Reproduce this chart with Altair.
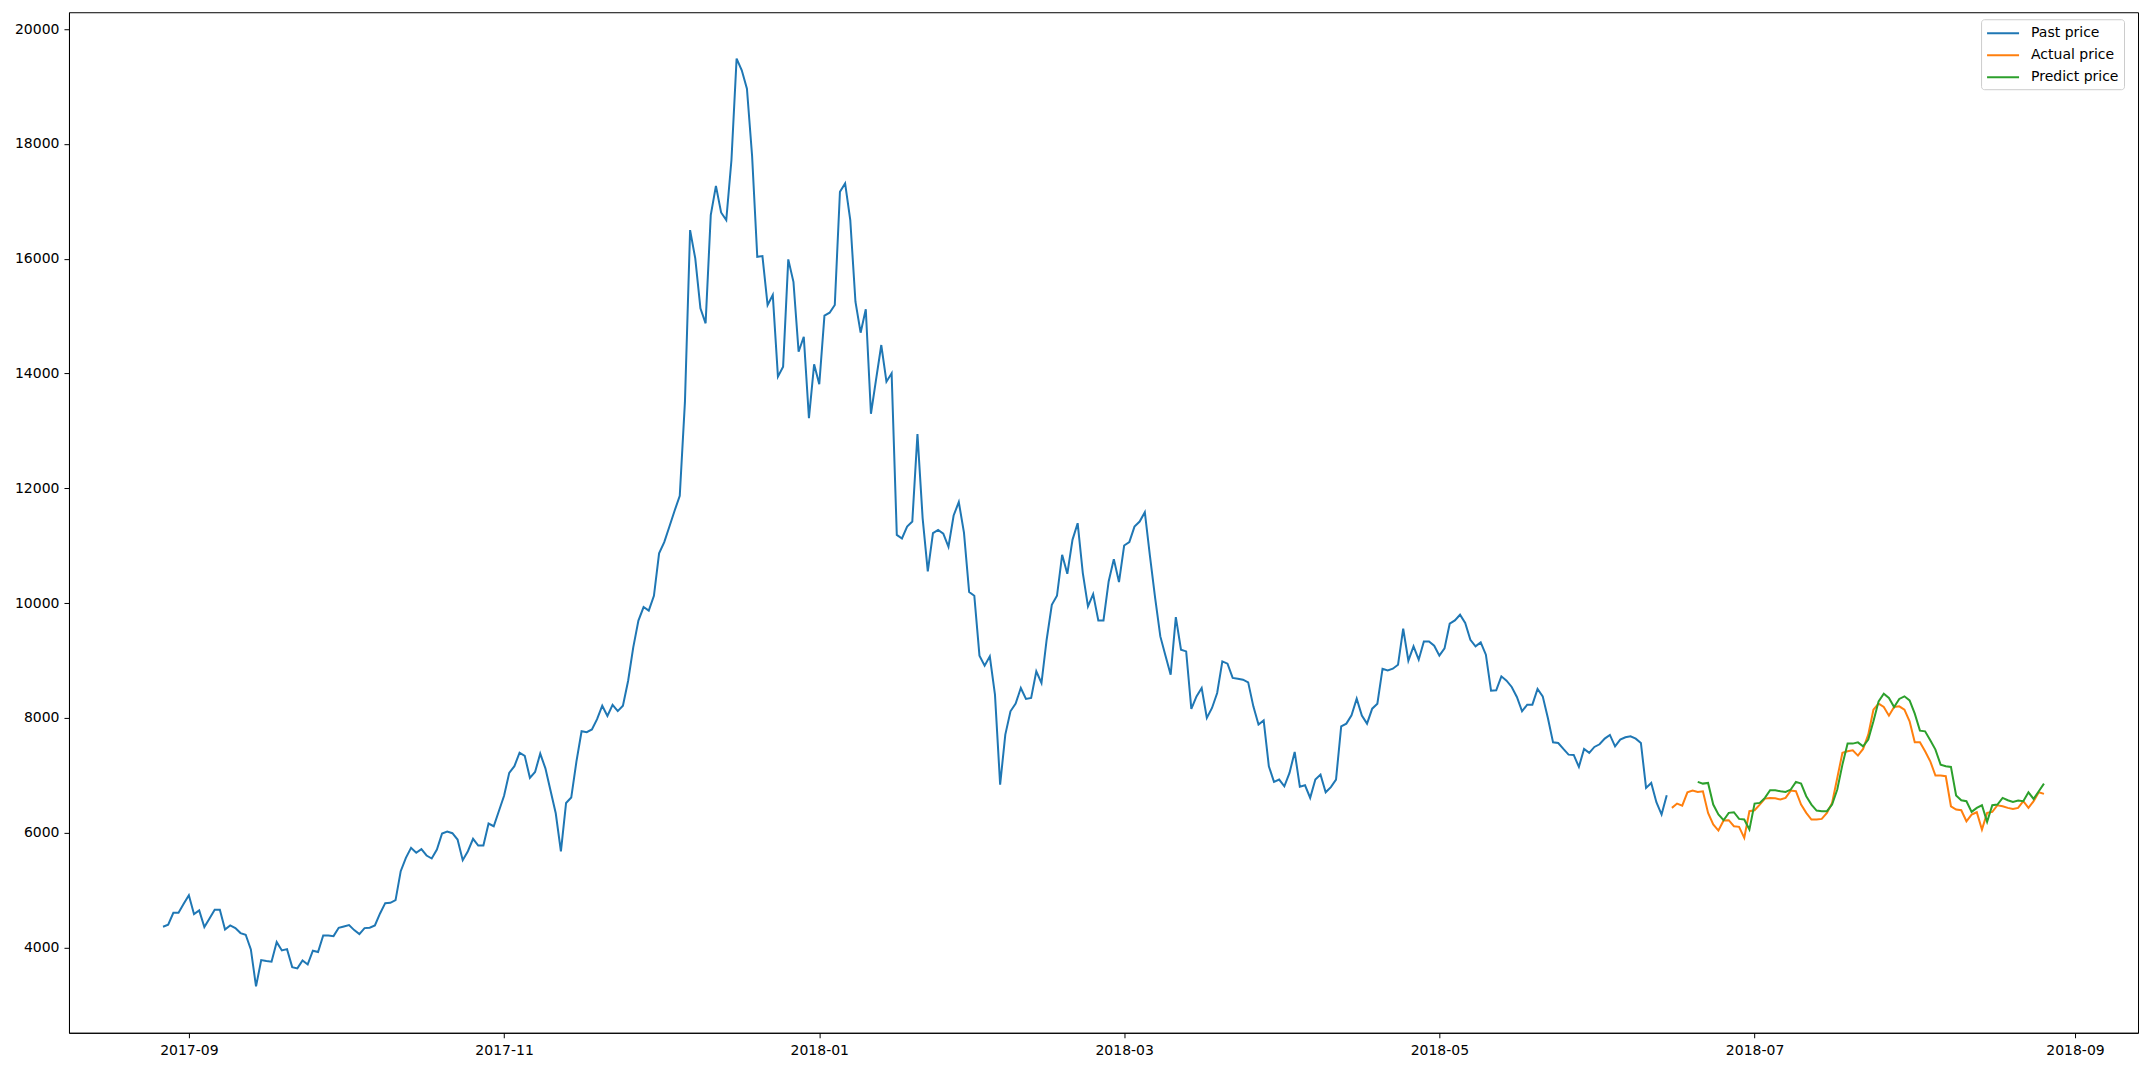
import altair as alt
import pandas as pd

# ---- data (daily prices) ----
past_start = "2017-08-27"
past_2017_08 = [4359, 4393, 4602, 4602, 4759]
past_2017_09 = [4909, 4578, 4642, 4352, 4503, 4654, 4654, 4311, 4381, 4335,
                4248, 4219, 3963, 3319, 3777, 3760, 3749, 4091, 3946, 3969,
                3655, 3633, 3772, 3702, 3941, 3917, 4207, 4207, 4195, 4341]
past_2017_10 = [4364, 4387, 4300, 4230, 4335, 4341, 4381, 4590, 4770, 4776,
                4822, 5327, 5560, 5734, 5647, 5710, 5600, 5548, 5704, 5983,
                6018, 5989, 5879, 5518, 5675, 5891, 5774, 5774, 6157, 6110, 6376]
past_2017_11 = [6640, 7040, 7157, 7391, 7336, 6954, 7055, 7376, 7118, 6728,
                6336, 5673, 6516, 6610, 7235, 7766, 7750, 7797, 7976, 8211,
                8032, 8227, 8117, 8211, 8641, 9226, 9695, 9930, 9867, 10125]
past_2017_12 = [10866, 11061, 11334, 11608, 11867, 13500, 16498, 16005, 15135, 14874,
                16759, 17270, 16806, 16672, 17716, 19487, 19283, 18964, 17790, 16034,
                16046, 15193, 15367, 13945, 14119, 15988, 15598, 14379, 14640, 13220, 14160]
past_2018_01 = [13812, 15007, 15059, 15193, 17166, 17312, 16672, 15250, 14711, 15118,
                13298, 13900, 14496, 13857, 14003, 11187, 11125, 11332, 11420, 12943,
                11480, 10550, 11217, 11275, 11210, 10980, 11525, 11760, 11228, 10191, 10126]
past_2018_02 = [9082, 8908, 9070, 8403, 6836, 7707, 8113, 8246, 8519, 8328,
                8345, 8808, 8606, 9360, 9970, 10126, 10840, 10509, 11101, 11391,
                10521, 9940, 10156, 9697, 9697, 10376, 10765, 10365]
past_2018_03 = [11002, 11061, 11332, 11420, 11583, 10811, 10086, 9418, 9082, 8751,
                9755, 9186, 9157, 8154, 8373, 8519, 7997, 8171, 8432, 8983,
                8943, 8694, 8682, 8664, 8617, 8199, 7881, 7955, 7155, 6883, 6923]
past_2018_04 = [6806, 7040, 7405, 6800, 6824, 6604, 6923, 7010, 6702, 6792,
                6923, 7851, 7898, 8043, 8333, 8037, 7898, 8159, 8246, 8855,
                8826, 8855, 8925, 9552, 8995, 9244, 9012, 9331, 9331, 9256]
past_2018_05 = [9082, 9209, 9639, 9697, 9796, 9651, 9360, 9244, 9313, 9099,
                8472, 8478, 8722, 8647, 8537, 8363, 8113, 8229, 8229, 8502,
                8373, 7997, 7572, 7561, 7457, 7358, 7352, 7144, 7457, 7388, 7492]
past_2018_06 = [7538, 7637, 7701, 7503, 7620, 7660, 7677, 7637, 7561, 6778,
                6865, 6528, 6314, 6650]

actual_start = "2018-06-15"
actual_2018_06 = [6430, 6505, 6470, 6702, 6731, 6708, 6720, 6343, 6140, 6035,
                  6209, 6215, 6110, 6099, 5908, 6372]
actual_2018_07 = [6389, 6488, 6592, 6604, 6598, 6575, 6604, 6731, 6720, 6488,
                  6343, 6227, 6227, 6238, 6343, 6517, 6952, 7388, 7416, 7433,
                  7341, 7457, 7706, 8141, 8246, 8188, 8037, 8188, 8200, 8141, 7938]
actual_2018_08 = [7572, 7572, 7416, 7242, 6993, 6993, 6981, 6458, 6401, 6389,
                  6197, 6314, 6354, 6052, 6343, 6360, 6476, 6458, 6430, 6412,
                  6430, 6546, 6430, 6546, 6702, 6674]

predict_start = "2018-06-20"
predict_2018_06 = [6883, 6853, 6865, 6488, 6314, 6215, 6343, 6354, 6238, 6227, 6052]
predict_2018_07 = [6505, 6517, 6604, 6737, 6737, 6720, 6708, 6749, 6883, 6853,
                   6633, 6488, 6383, 6372, 6372, 6488, 6749, 7184, 7550, 7550,
                   7572, 7503, 7620, 7938, 8287, 8420, 8345, 8188, 8328, 8374, 8304]
predict_2018_08 = [8072, 7776, 7764, 7607, 7445, 7184, 7155, 7144, 6645, 6563,
                   6546, 6360, 6430, 6476, 6186, 6476, 6488, 6604, 6563, 6534,
                   6557, 6546, 6702, 6586, 6720, 6853]

series_names = ["Past price", "Actual price", "Predict price"]
series_colors = ["#1f77b4", "#ff7f0e", "#2ca02c"]
y_ticks = [4000, 6000, 8000, 10000, 12000, 14000, 16000, 18000, 20000]
x_tick_months = [(2017, 9), (2017, 11), (2018, 1), (2018, 3), (2018, 5), (2018, 7), (2018, 9)]

past = (past_2017_08 + past_2017_09 + past_2017_10 + past_2017_11 + past_2017_12 +
        past_2018_01 + past_2018_02 + past_2018_03 + past_2018_04 + past_2018_05 + past_2018_06)
actual = actual_2018_06 + actual_2018_07 + actual_2018_08
predict = predict_2018_06 + predict_2018_07 + predict_2018_08


def frame(start, values, name):
    dates = pd.date_range(start, periods=len(values), freq="D")
    return pd.DataFrame({"date": dates.strftime("%Y-%m-%d"), "price": values, "series": name})


df = pd.concat([frame(past_start, past, series_names[0]),
                frame(actual_start, actual, series_names[1]),
                frame(predict_start, predict, series_names[2])], ignore_index=True)

x_domain = [alt.DateTime(year=2017, month=8, date=8, hours=19, minutes=12, utc=True),
            alt.DateTime(year=2018, month=9, date=13, hours=4, minutes=48, utc=True)]
x_values = [alt.DateTime(year=y, month=m, date=1, utc=True) for y, m in x_tick_months]

chart = alt.Chart(df).mark_line(strokeWidth=2, clip=True).encode(
    x=alt.X("date:T",
            scale=alt.Scale(type="utc", domain=x_domain, nice=False),
            axis=alt.Axis(values=x_values, format="%Y-%m", title=None, grid=False,
                          labelFlush=False, labelOverlap=False, labelPadding=6)),
    y=alt.Y("price:Q",
            scale=alt.Scale(domain=[2511, 20295], nice=False, zero=False),
            axis=alt.Axis(values=y_ticks, format="d", title=None, grid=False)),
    color=alt.Color("series:N",
                    scale=alt.Scale(domain=series_names, range=series_colors),
                    sort=series_names,
                    legend=alt.Legend(title=None, orient="none", legendX=1913, legendY=7,
                                      symbolType="M-1,0H3", symbolSize=256,
                                      symbolStrokeWidth=2, symbolFillColor="transparent",
                                      labelOffset=27, rowPadding=6, padding=5,
                                      fillColor="white", strokeColor="#cccccc",
                                      cornerRadius=3)),
    order=alt.Order("series_order:Q"),
).transform_calculate(
    series_order="indexof(['Past price','Actual price','Predict price'], datum.series)"
).properties(
    width=2070, height=1021,
    autosize=alt.AutoSizeParams(type="none"),
    padding={"left": 61, "top": 4, "right": 5, "bottom": 30},
).configure_view(
    stroke="black", strokeWidth=1
).configure_axis(
    labelFont="DejaVu Sans", labelFontSize=14, labelColor="black",
    tickColor="black", tickSize=5, tickWidth=1,
    domainColor="black", domainWidth=1, labelPadding=5,
).configure_legend(
    labelFont="DejaVu Sans", labelFontSize=14, labelColor="black",
)

chart.save("out.html", embed_options={"renderer": "svg", "actions": False})
